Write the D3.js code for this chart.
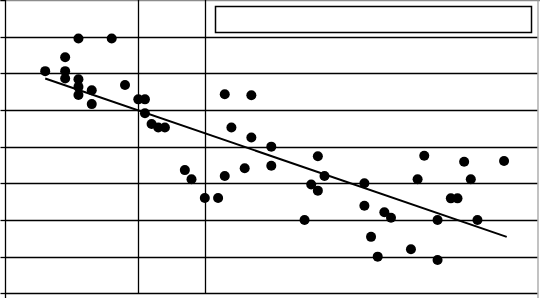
<!DOCTYPE html>
<html>
<head>
<meta charset="utf-8">
<script src="https://cdn.jsdelivr.net/npm/d3@7"></script>
<style>
	html, body { margin: 0; padding: 0; background: #fff; }
	svg { display: block; }
</style>
</head>
<body>
<div id="chart"></div>
<script>

var xValues = [1.1, 1.6, 0.9, 0.6, 0.9, 0.9, 1.1, 1.1, 1.1, 1.3, 1.3, 1.8, 2.0, 2.1, 2.1, 2.2, 2.3, 2.4,
	3.3, 3.7, 3.4, 3.7, 4.0, 4.0, 3.6, 3.3, 2.7, 2.8, 3.0, 3.2, 4.7, 4.8, 4.6, 4.7, 4.5,
	6.3, 6.9, 7.5, 6.2, 7.0, 5.4, 6.7, 6.8, 5.4, 5.7, 5.8, 6.5, 7.1, 5.5, 6.1, 5.6, 6.5];
var yValues = [6.95, 6.95, 6.44, 6.06, 6.06, 5.86, 5.84, 5.63, 5.41, 5.54, 5.16, 5.68, 5.29, 5.29, 4.91, 4.62, 4.52, 4.52,
	5.43, 5.40, 4.52, 4.25, 4.00, 3.48, 3.41, 3.20, 3.36, 3.11, 2.60, 2.60, 3.74, 3.20, 2.97, 2.80, 2.00,
	3.75, 3.59, 3.61, 3.11, 3.11, 3.00, 2.59, 2.59, 2.39, 2.21, 2.06, 2.00, 2.00, 1.54, 1.20, 1.00, 0.91];

// fitted line end points
var trendX = [0.6, 7.54];
var trendY = [5.86, 1.54];

var yTicks = [0, 1, 2, 3, 4, 5, 6, 7, 8];
var xGrid = [2, 3];

var width = 540, height = 298;

var x = d3.scaleLinear().domain([0, 8]).range([5.3, 537.3]);
var y = d3.scaleLinear().domain([0, 8]).range([293.3, 0]);

// snap a pixel position onto the middle of a pixel
var snap = v => Math.round(v) + 0.5;

var svg = d3.select("#chart")
	.append("svg")
		.attr("width", width)
		.attr("height", height);

// frame (gray top and right edge)
svg.append("line")
	.attr("x1", 0).attr("x2", width)
	.attr("y1", 0.5).attr("y2", 0.5)
	.attr("stroke", "#8c8c8c")
	.attr("stroke-width", 1.5);
svg.append("line")
	.attr("x1", 538).attr("x2", 538)
	.attr("y1", 0).attr("y2", height)
	.attr("stroke", "#9a9a9a")
	.attr("stroke-width", 1.2);

let grid = svg.append("g")
	.attr("stroke", "#000")
	.attr("stroke-width", 1.3);

grid.selectAll("line.h")
	.data(yTicks.filter(d => d < 8))
	.enter()
		.append("line")
		.attr("class", "h")
		.attr("x1", x(0))
		.attr("x2", x(8))
		.attr("y1", d => snap(y(d)))
		.attr("y2", d => snap(y(d)));

grid.selectAll("line.v")
	.data(xGrid)
	.enter()
		.append("line")
		.attr("class", "v")
		.attr("x1", d => snap(x(d)))
		.attr("x2", d => snap(x(d)))
		.attr("y1", y(8))
		.attr("y2", snap(y(0)));

// left axis, ticks only
let axis = svg.append("g")
	.attr("transform", "translate(" + snap(x(0)) + ",0)")
	.call(d3.axisLeft(y).tickValues(yTicks).tickFormat("").tickSize(5).tickSizeOuter(0));
axis.select(".domain").remove();
axis.selectAll(".tick")
	.attr("transform", d => "translate(0," + snap(y(d)) + ")");
axis.selectAll("line").attr("stroke-width", 1.3);

svg.append("line")
	.attr("x1", snap(x(0))).attr("x2", snap(x(0)))
	.attr("y1", y(8)).attr("y2", height)
	.attr("stroke", "#000")
	.attr("stroke-width", 1.3);

// legend box (empty)
svg.append("rect")
	.attr("x", 215.5)
	.attr("y", 6.5)
	.attr("width", 316)
	.attr("height", 26)
	.attr("fill", "#fff")
	.attr("stroke", "#000")
	.attr("stroke-width", 1.5);

// points
let points = xValues.map((d, i) => ({x: d, y: yValues[i]}));

svg.append("g")
	.selectAll("circle")
	.data(points)
	.enter()
		.append("circle")
		.attr("cx", d => x(d.x))
		.attr("cy", d => y(d.y))
		.attr("r", 5)
		.attr("fill", "#000");

// trend line
let line = d3.line()
	.x(d => x(d[0]))
	.y(d => y(d[1]));

svg.append("path")
	.attr("d", line(trendX.map((d, i) => [d, trendY[i]])))
	.attr("fill", "none")
	.attr("stroke", "#000")
	.attr("stroke-width", 2);

</script>
</body>
</html>
